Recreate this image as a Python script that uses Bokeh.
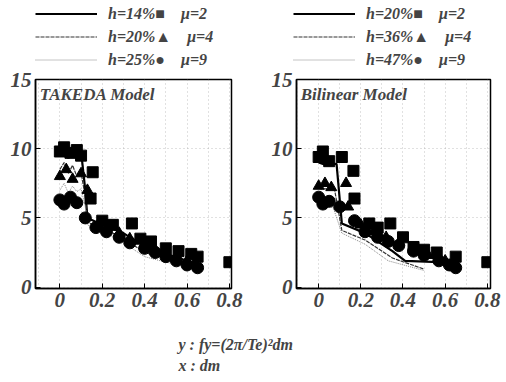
from bokeh.plotting import figure
from bokeh.models import Legend, LegendItem, Label, Range1d
from bokeh.layouts import row, column
from bokeh.embed import file_html
from bokeh.resources import INLINE

# ---------------- data ----------------
# TAKEDA model (left)
tk_sq_x = [0.0, 0.02, 0.05, 0.08, 0.10, 0.155, 0.145, 0.20, 0.25, 0.34, 0.38, 0.43, 0.50, 0.56, 0.62, 0.65, 0.80]
tk_sq_y = [9.8, 10.1, 9.7, 9.9, 9.5, 8.3, 6.4, 4.8, 4.5, 4.6, 3.5, 3.3, 2.8, 2.6, 2.4, 2.2, 1.8]
tk_tr_x = [0.0, 0.03, 0.06, 0.10, 0.13, 0.18, 0.22, 0.28, 0.33, 0.40, 0.45, 0.50, 0.55, 0.60, 0.64]
tk_tr_y = [8.0, 8.5, 7.8, 8.2, 7.0, 4.5, 4.2, 3.9, 3.5, 3.0, 2.7, 2.4, 2.2, 1.9, 1.7]
tk_ci_x = [0.0, 0.02, 0.05, 0.08, 0.12, 0.17, 0.22, 0.28, 0.33, 0.40, 0.45, 0.50, 0.55, 0.60, 0.65]
tk_ci_y = [6.3, 6.0, 6.5, 6.1, 5.0, 4.3, 4.0, 3.6, 3.2, 2.8, 2.5, 2.2, 1.9, 1.6, 1.4]

tk_line_x = [0.0, 0.02, 0.04, 0.06, 0.08, 0.10, 0.12, 0.13, 0.20, 0.30, 0.35, 0.40, 0.50, 0.60, 0.65]
tk_h14_y = [9.5, 10.2, 9.3, 10.0, 9.4, 9.8, 7.0, 5.0, 4.5, 3.9, 3.4, 3.0, 2.4, 1.9, 1.6]
tk_h20_y = [8.5, 9.0, 8.2, 8.8, 8.0, 8.3, 6.5, 4.7, 4.2, 3.6, 3.0, 2.5, 2.1, 1.6, 1.4]
tk_h25_y = [7.0, 7.5, 6.8, 7.3, 6.9, 7.1, 5.8, 4.5, 4.0, 3.3, 2.7, 2.2, 1.8, 1.5, 1.3]

# Bilinear model (right)
bl_sq_x = [0.0, 0.02, 0.05, 0.11, 0.165, 0.17, 0.24, 0.28, 0.34, 0.40, 0.45, 0.50, 0.56, 0.65, 0.80]
bl_sq_y = [9.4, 9.8, 9.1, 9.4, 8.4, 6.4, 4.6, 4.3, 4.6, 3.6, 2.9, 2.7, 2.5, 2.2, 1.8]
bl_tr_x = [0.0, 0.03, 0.06, 0.13, 0.14, 0.20, 0.26, 0.32, 0.38, 0.45, 0.52, 0.60, 0.65]
bl_tr_y = [7.3, 7.5, 7.2, 7.5, 5.8, 4.5, 4.0, 3.6, 3.2, 2.7, 2.3, 1.9, 1.7]
bl_ci_x = [0.0, 0.02, 0.05, 0.10, 0.17, 0.22, 0.28, 0.33, 0.38, 0.45, 0.50, 0.57, 0.62, 0.65]
bl_ci_y = [6.5, 6.0, 6.2, 5.8, 4.8, 4.0, 3.6, 3.3, 3.0, 2.6, 2.3, 1.9, 1.6, 1.4]

bl_h20_x = [0.0, 0.02, 0.085, 0.11, 0.22, 0.35, 0.41, 0.57]
bl_h20_y = [9.0, 8.9, 8.9, 4.6, 3.9, 2.6, 1.9, 1.8]
bl_h36_x = [0.0, 0.01, 0.075, 0.11, 0.22, 0.35, 0.50]
bl_h36_y = [7.2, 7.1, 7.1, 4.1, 3.4, 2.1, 1.3]
bl_h47_x = [0.0, 0.01, 0.07, 0.11, 0.22, 0.33, 0.50]
bl_h47_y = [6.3, 6.2, 5.7, 3.9, 3.1, 1.9, 1.2]

x_ticks = [0, 0.2, 0.4, 0.6, 0.8]
x_tick_labels = {0: "0", 0.2: "0.2", 0.4: "0.4", 0.6: "0.6", 0.8: "0.8"}
y_ticks = [0, 5, 10, 15]

left_labels = ["h=14%\u25a0    \u03bc=2", "h=20%\u25b2    \u03bc=4", "h=25%\u25cf    \u03bc=9"]
right_labels = ["h=20%\u25a0    \u03bc=2", "h=36%\u25b2    \u03bc=4", "h=47%\u25cf    \u03bc=9"]

FONT = "Liberation Serif"
LINE_STYLES = [dict(line_width=2.2, line_color="black"),
               dict(line_width=1.2, line_color="#333333", line_dash="4 1"),
               dict(line_width=1.0, line_color="#888888", line_dash="1 1")]
NAN = float("nan")


def style_axes(p):
    p.xaxis.ticker = x_ticks
    p.xaxis.major_label_overrides = x_tick_labels
    p.yaxis.ticker = y_ticks
    for ax in p.axis:
        ax.major_tick_in = 5
        ax.major_tick_out = 0
        ax.minor_tick_in = 2
        ax.minor_tick_out = 0
        ax.axis_line_width = 1.5
        ax.major_label_text_font = FONT
        ax.major_label_text_font_style = "bold italic"
        ax.major_label_text_font_size = "21px"
        ax.major_label_standoff = 4
    p.grid.grid_line_color = "#9a9a9a"
    p.grid.grid_line_dash = "1 3"
    p.grid.grid_line_alpha = 0.6
    p.xgrid.ticker = [-0.1, 0, 0.1, 0.2, 0.3, 0.4, 0.5, 0.6, 0.7, 0.8]
    p.outline_line_color = "black"
    p.outline_line_width = 1.5


def make_panel(width, xr, border_left, border_right, sqx, sqy, trx, tr_y, cix, ciy, lines, title):
    p = figure(width=width, height=11 + 209 + 37, output_backend="svg", toolbar_location=None,
               x_range=Range1d(*xr), y_range=Range1d(-0.1, 15),
               min_border_left=border_left, min_border_right=border_right,
               min_border_top=11, min_border_bottom=37)
    style_axes(p)

    for (lx, ly), st in zip(lines, LINE_STYLES):
        p.line(lx, ly, **st)

    p.scatter(sqx, sqy, marker="square", size=11, color="black")
    p.scatter(trx, tr_y, marker="triangle", size=11, color="black")
    p.scatter(cix, ciy, marker="circle", size=12, color="black")

    p.add_layout(Label(x=xr[0] + 0.02, y=14.6, text=title, text_font=FONT,
                       text_font_style="bold italic", text_font_size="17px",
                       text_baseline="top", text_align="left"))
    return p


def make_legend(width, labels, x_off):
    f = figure(width=width, height=68, output_backend="svg", toolbar_location=None,
               x_range=Range1d(0, 1), y_range=Range1d(0, 1),
               min_border_left=x_off, min_border_right=0,
               min_border_top=4, min_border_bottom=0,
               outline_line_color=None)
    f.axis.visible = False
    f.grid.visible = False
    rends = [f.line([NAN], [NAN], **st) for st in LINE_STYLES]
    items = [LegendItem(label=lab, renderers=[r]) for lab, r in zip(labels, rends)]
    leg = Legend(items=items, location="top_left", orientation="vertical",
                 glyph_width=62, glyph_height=19, label_height=19, spacing=4,
                 label_standoff=11, padding=0, margin=0,
                 label_text_font=FONT, label_text_font_style="bold italic",
                 label_text_font_size="16px",
                 border_line_color=None, background_fill_alpha=0)
    f.add_layout(leg)
    return f


p1 = make_panel(253, (-0.115, 0.81), 35, 22, tk_sq_x, tk_sq_y, tk_tr_x, tk_tr_y, tk_ci_x, tk_ci_y,
                [(tk_line_x, tk_h14_y), (tk_line_x, tk_h20_y), (tk_line_x, tk_h25_y)],
                "TAKEDA Model")
p2 = make_panel(252, (-0.105, 0.815), 43, 15, bl_sq_x, bl_sq_y, bl_tr_x, bl_tr_y, bl_ci_x, bl_ci_y,
                [(bl_h20_x, bl_h20_y), (bl_h36_x, bl_h36_y), (bl_h47_x, bl_h47_y)],
                "Bilinear Model")
l1 = make_legend(253, left_labels, 35)
l2 = make_legend(252, right_labels, 40)

p3 = figure(width=505, height=56, output_backend="svg", toolbar_location=None,
            x_range=Range1d(0, 505), y_range=Range1d(0, 56),
            min_border=0, outline_line_color=None)
p3.axis.visible = False
p3.grid.visible = False
p3.add_layout(Label(x=178, y=37, text="y : fy=(2\u03c0/Te)\u00b2dm", text_font=FONT,
                    text_font_style="bold italic", text_font_size="16px",
                    text_baseline="middle", text_align="left"))
p3.add_layout(Label(x=178, y=16, text="x : dm", text_font=FONT,
                    text_font_style="bold italic", text_font_size="16px",
                    text_baseline="middle", text_align="left"))

layout = column(row(l1, l2), row(p1, p2), p3)
open("out.html", "w").write(file_html(layout, INLINE))
